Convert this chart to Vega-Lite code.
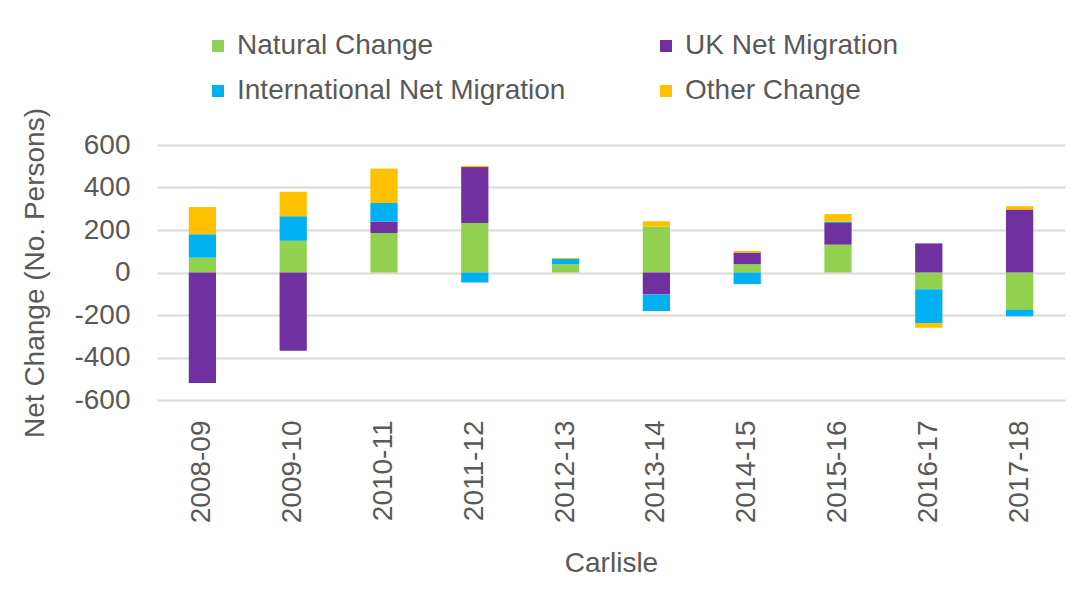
{
  "$schema": "https://vega.github.io/schema/vega-lite/v6.json",
  "width": 908,
  "height": 255,
  "autosize": {"type": "none"},
  "padding": {"left": 157, "top": 145, "right": 24, "bottom": 189},
  "background": "white",
  "config": {
    "font": "Liberation Sans",
    "view": {"stroke": null}
  },
  "data": {
    "values": [
      {"year": "2008-09", "series": "Natural Change", "k": 1, "value": 70},
      {"year": "2008-09", "series": "UK Net Migration", "k": 2, "value": -520},
      {"year": "2008-09", "series": "International Net Migration", "k": 3, "value": 110},
      {"year": "2008-09", "series": "Other Change", "k": 4, "value": 128},
      {"year": "2009-10", "series": "Natural Change", "k": 1, "value": 150},
      {"year": "2009-10", "series": "UK Net Migration", "k": 2, "value": -368},
      {"year": "2009-10", "series": "International Net Migration", "k": 3, "value": 115},
      {"year": "2009-10", "series": "Other Change", "k": 4, "value": 115},
      {"year": "2010-11", "series": "Natural Change", "k": 1, "value": 186},
      {"year": "2010-11", "series": "UK Net Migration", "k": 2, "value": 54},
      {"year": "2010-11", "series": "International Net Migration", "k": 3, "value": 87},
      {"year": "2010-11", "series": "Other Change", "k": 4, "value": 162},
      {"year": "2011-12", "series": "Natural Change", "k": 1, "value": 233},
      {"year": "2011-12", "series": "UK Net Migration", "k": 2, "value": 263},
      {"year": "2011-12", "series": "International Net Migration", "k": 3, "value": -47},
      {"year": "2011-12", "series": "Other Change", "k": 4, "value": 6},
      {"year": "2012-13", "series": "Natural Change", "k": 1, "value": 39},
      {"year": "2012-13", "series": "UK Net Migration", "k": 2, "value": 0},
      {"year": "2012-13", "series": "International Net Migration", "k": 3, "value": 25},
      {"year": "2012-13", "series": "Other Change", "k": 4, "value": 5},
      {"year": "2013-14", "series": "Natural Change", "k": 1, "value": 217},
      {"year": "2013-14", "series": "UK Net Migration", "k": 2, "value": -104},
      {"year": "2013-14", "series": "International Net Migration", "k": 3, "value": -77},
      {"year": "2013-14", "series": "Other Change", "k": 4, "value": 24},
      {"year": "2014-15", "series": "Natural Change", "k": 1, "value": 39},
      {"year": "2014-15", "series": "UK Net Migration", "k": 2, "value": 55},
      {"year": "2014-15", "series": "International Net Migration", "k": 3, "value": -55},
      {"year": "2014-15", "series": "Other Change", "k": 4, "value": 8},
      {"year": "2015-16", "series": "Natural Change", "k": 1, "value": 131},
      {"year": "2015-16", "series": "UK Net Migration", "k": 2, "value": 102},
      {"year": "2015-16", "series": "International Net Migration", "k": 3, "value": 6},
      {"year": "2015-16", "series": "Other Change", "k": 4, "value": 36},
      {"year": "2016-17", "series": "Natural Change", "k": 1, "value": -79},
      {"year": "2016-17", "series": "UK Net Migration", "k": 2, "value": 137},
      {"year": "2016-17", "series": "International Net Migration", "k": 3, "value": -159},
      {"year": "2016-17", "series": "Other Change", "k": 4, "value": -22},
      {"year": "2017-18", "series": "Natural Change", "k": 1, "value": -176},
      {"year": "2017-18", "series": "UK Net Migration", "k": 2, "value": 296},
      {"year": "2017-18", "series": "International Net Migration", "k": 3, "value": -30},
      {"year": "2017-18", "series": "Other Change", "k": 4, "value": 16}
    ]
  },
  "mark": {"type": "bar"},
  "encoding": {
    "x": {
      "field": "year",
      "type": "nominal",
      "scale": {"paddingInner": 0.7, "paddingOuter": 0.35},
      "axis": {
        "title": "Carlisle",
        "labelAngle": -90,
        "labelFontSize": 28,
        "labelColor": "#595959",
        "labelPadding": 20,
        "domain": false,
        "ticks": false,
        "titleFontSize": 28,
        "titleFontWeight": "normal",
        "titleColor": "#595959",
        "titlePadding": 27
      }
    },
    "y": {
      "field": "value",
      "type": "quantitative",
      "stack": "zero",
      "scale": {"domain": [-600, 600], "nice": false, "zero": true},
      "axis": {
        "title": "Net Change (No. Persons)",
        "values": [-600, -400, -200, 0, 200, 400, 600],
        "labelExpr": "'' + datum.value",
        "labelFontSize": 28,
        "labelColor": "#595959",
        "labelPadding": 27,
        "domain": false,
        "ticks": false,
        "grid": true,
        "gridColor": "#d9d9d9",
        "gridWidth": 2,
        "titleFontSize": 28,
        "titleFontWeight": "normal",
        "titleColor": "#595959",
        "titlePadding": 24
      }
    },
    "color": {
      "field": "series",
      "type": "nominal",
      "scale": {
        "domain": ["Natural Change", "UK Net Migration", "International Net Migration", "Other Change"],
        "range": ["#92d050", "#7030a0", "#00b0f0", "#ffc000"]
      },
      "legend": {
        "title": null,
        "orient": "none",
        "legendX": 47,
        "legendY": -113,
        "direction": "horizontal",
        "columns": 2,
        "columnPadding": 86,
        "rowPadding": 17,
        "symbolType": "square",
        "symbolSize": 144,
        "symbolStrokeWidth": 0,
        "labelFontSize": 28,
        "labelColor": "#595959",
        "labelOffset": 5,
        "labelLimit": 500
      }
    },
    "order": {"field": "k", "type": "quantitative"}
  }
}
